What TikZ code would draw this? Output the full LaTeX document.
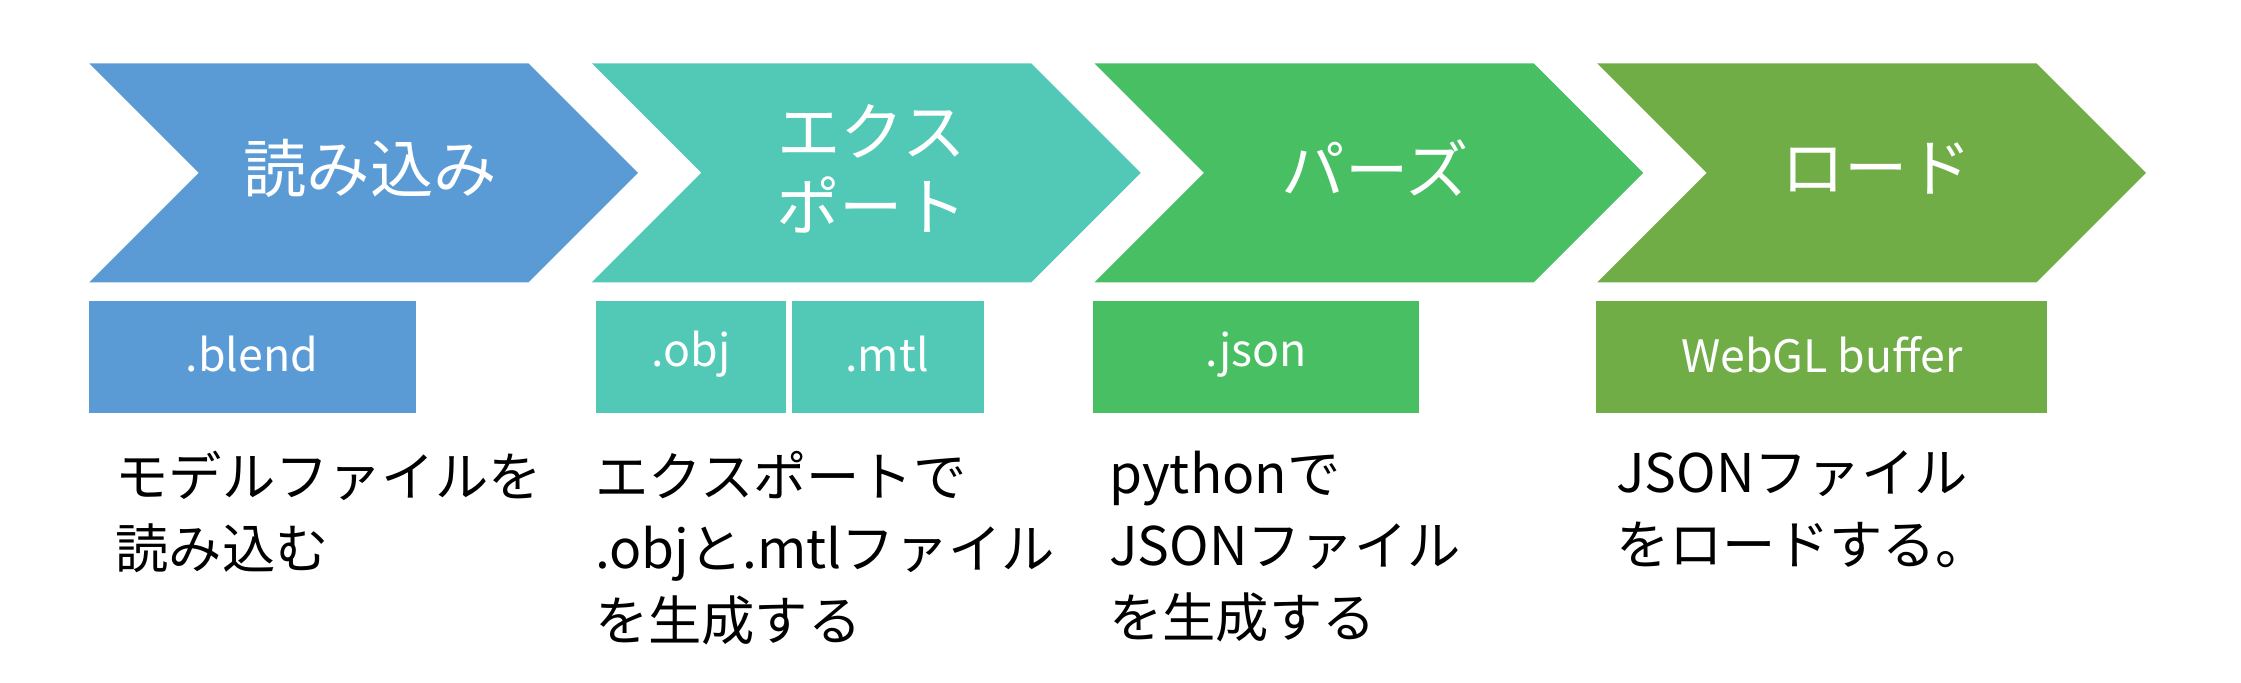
\documentclass[tikz,border=0pt]{standalone}
\usepackage{fontspec}
\setmainfont{Noto Sans CJK JP}
\definecolor{cA}{HTML}{5B9BD5}
\definecolor{cB}{HTML}{52C9B6}
\definecolor{cC}{HTML}{48BF62}
\definecolor{cD}{HTML}{70AD47}
\begin{document}
\begin{tikzpicture}[x=1pt,y=-1pt,
  chev/.style={fill=#1,draw=none},
  ctext/.style={text=white,font=\fontsize{44}{52}\selectfont,align=center},
  btext/.style={text=white,font=\fontsize{31}{36}\selectfont},
  body/.style={anchor=north west,align=left,font=\fontsize{37}{50}\selectfont,inner sep=0pt}]
\useasboundingbox (0,0) rectangle (1556,474);
\foreach \i/\c in {0/cA,1/cB,2/cC,3/cD}{
  \fill[\c] ({62+349*\i},44) -- ({367+349*\i},44) -- ({443+349*\i},120) -- ({367+349*\i},196) -- ({62+349*\i},196) -- ({138+349*\i},120) -- cycle;
}
\node[ctext] (c1) at (257,117) {読み込み};
\node[ctext] (c2) at (605,117) {エクス\\ポート};
\node[ctext] (c3) at (955,117) {パーズ};
\node[ctext] (c4) at (1303,117) {ロード};
\fill[cA] (62,209) rectangle (289,287);
\fill[cB] (414,209) rectangle (546,287);
\fill[cB] (550,209) rectangle (683,287);
\fill[cC] (759,209) rectangle (985,287);
\fill[cD] (1108,209) rectangle (1421,287);
\node[btext] (b1) at (175,246) {.blend};
\node[btext] (b2) at (480,246) {.obj};
\node[btext] (b3) at (616,246) {.mtl};
\node[btext] (b4) at (872,246) {.json};
\node[btext] (b5) at (1265,246) {WebGL buffer};
\node[body] (t1) at (80,313) {モデルファイルを\\読み込む};
\node[body] (t2) at (413,313) {エクスポートで\\.objと.mtlファイル\\を生成する};
\node[body] (t3) at (770,313) {pythonで\\JSONファイル\\を生成する};
\node[body] (t4) at (1122,313) {JSONファイル\\をロードする。};
\end{tikzpicture}
\end{document}
